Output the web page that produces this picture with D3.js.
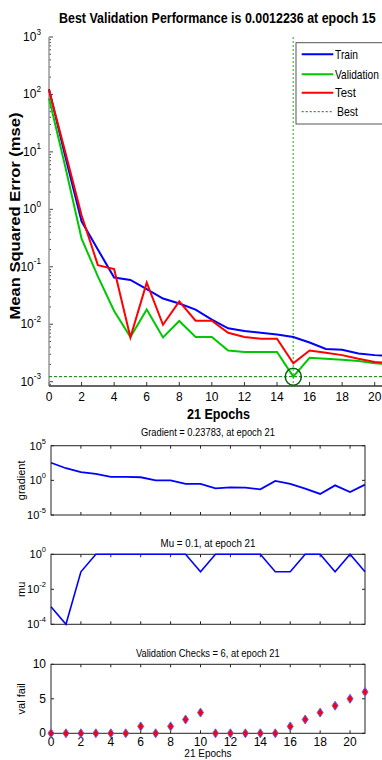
<!DOCTYPE html>
<html><head><meta charset="utf-8">
<script src="https://cdn.jsdelivr.net/npm/d3@7"></script>
<style>
html,body{margin:0;padding:0;background:#fff;}
svg{display:block;}
text{font-family:"Liberation Sans Narrow","Liberation Sans",Arial,sans-serif;fill:#000;}
</style></head><body>
<svg id="c" width="382" height="760"></svg>
<script>
// ---------- data ----------
const epochs = [0,1,2,3,4,5,6,7,8,9,10,11,12,13,14,15,16,17,18,19,20,21];
const trainPerf = [123, 8.3, 0.62, 0.2, 0.065, 0.059, 0.041, 0.028, 0.023, 0.018, 0.012, 0.0085, 0.0076, 0.0071, 0.0066, 0.0060, 0.0048, 0.0037, 0.0036, 0.0031, 0.0029, 0.0028];
const valPerf   = [86, 5.5, 0.31, 0.068, 0.017, 0.006, 0.018, 0.0059, 0.0114, 0.006, 0.006, 0.0035, 0.0033, 0.0033, 0.0033, 0.0012236, 0.0026, 0.0025, 0.0024, 0.0023, 0.0021, 0.0020];
const testPerf  = [120, 10, 0.79, 0.107, 0.091, 0.0059, 0.053, 0.0098, 0.025, 0.0115, 0.0115, 0.0071, 0.006, 0.0056, 0.0056, 0.0021, 0.0035, 0.0032, 0.0029, 0.0025, 0.0022, 0.0021];
const bestEpoch = 15;
const bestPerf = 0.0012236;
const gradient = [350, 56, 15, 8.3, 3.1, 3.1, 2.8, 1.0, 1.0, 0.30, 0.30, 0.071, 0.10, 0.089, 0.051, 0.81, 0.30, 0.065, 0.011, 0.19, 0.021, 0.23783];
const mu = [0.001, 0.0001, 0.1, 1, 1, 1, 1, 1, 1, 1, 0.1, 1, 1, 1, 1, 0.1, 0.1, 1, 1, 0.1, 1, 0.1];
const valFail = [0,0,0,0,0,0,1,0,1,2,3,0,0,0,0,0,1,2,3,4,5,6];
const perfTickExps = [3,2,1,0,-1,-2,-3];
const perfXTicks = [0,2,4,6,8,10,12,14,16,18,20];
const gradTickExps = [5,0,-5];
const muTickExps = [0,-2,-4];
const failTicks = [0,5,10];
const legendNames = ["Train","Validation","Test","Best"];

const svg = d3.select("#c");
const BLUE="#0000ff", GREEN="#00c800", RED="#ff0000";

// place a text so its left edge is at x0 and its drawn width is `width` (horizontal squeeze)
function fitText(sel, x0, width, pre){
  sel.attr("x",0).attr("text-anchor","start");
  const w = sel.node().getComputedTextLength();
  sel.attr("transform",`${pre||""} translate(${x0},0) scale(${width/w},1)`);
  return sel;
}

function logLabel(g, x, y, exp, size){
  const t = g.append("text").attr("x",x).attr("y",y).attr("text-anchor","end")
    .attr("font-size",size).attr("dominant-baseline","middle");
  t.append("tspan").text("10");
  t.append("tspan").attr("font-size",size*0.68).attr("dy",-size*0.45).text(exp);
  return t;
}

// ---------- top performance plot ----------
const P = {l:49, r:391, t:37, b:386};
const x = d3.scaleLinear().domain([0,21]).range([P.l,P.r]);
const y = d3.scaleLog().domain([Math.pow(10,-3.075),1000]).range([P.b,P.t]);

fitText(svg.append("text").attr("y",23.5).attr("font-size",15).attr("font-weight","bold")
  .text("Best Validation Performance is 0.0012236 at epoch 15"), 59, 317);

const topG = svg.append("g");
const minor=[];
for(let e=-4;e<3;e++) for(let m=2;m<10;m++){const v=m*Math.pow(10,e); if(v>=y.domain()[0]&&v<=1000) minor.push(v);}
topG.selectAll("line.mi").data(minor).enter().append("line")
  .attr("x1",P.l).attr("x2",P.l+2).attr("y1",d=>y(d)).attr("y2",d=>y(d))
  .attr("stroke","#444").attr("stroke-width",1);
topG.selectAll("line.ma").data(perfTickExps).enter().append("line")
  .attr("x1",P.l).attr("x2",P.l+4).attr("y1",d=>y(Math.pow(10,d))).attr("y2",d=>y(Math.pow(10,d)))
  .attr("stroke","#444");
perfTickExps.forEach(e=>logLabel(topG, 41, y(Math.pow(10,e))+1, e, 12));
topG.selectAll("line.xt").data(perfXTicks).enter().append("line")
  .attr("x1",d=>x(d)).attr("x2",d=>x(d)).attr("y1",P.b).attr("y2",P.b-4).attr("stroke","#333");
topG.selectAll("text.xl").data(perfXTicks).enter().append("text")
  .attr("x",d=>x(d)).attr("y",401).attr("text-anchor","middle").attr("font-size",12).text(d=>d);
topG.append("line").attr("x1",P.l).attr("x2",P.l).attr("y1",P.t).attr("y2",P.b).attr("stroke","#999").attr("stroke-width",1.5);
topG.append("line").attr("x1",P.l).attr("x2",P.r).attr("y1",P.b).attr("y2",P.b).attr("stroke","#333").attr("stroke-width",1.5);

fitText(svg.append("text").attr("y",0).attr("font-size",14).attr("font-weight","bold")
  .attr("font-family","Liberation Sans, Arial, sans-serif").text("Mean Squared Error  (mse)"),
  -103.5, 207, "translate(20,216) rotate(-90)");
fitText(svg.append("text").attr("y",419.5).attr("font-size",14).attr("font-weight","bold").text("21 Epochs"), 187, 63);

topG.append("line").attr("x1",x(bestEpoch)).attr("x2",x(bestEpoch)).attr("y1",P.t).attr("y2",P.b)
  .attr("stroke","#70c070").attr("stroke-width",1.5).attr("stroke-dasharray","2,2");
topG.append("line").attr("x1",P.l).attr("x2",P.r).attr("y1",y(bestPerf)).attr("y2",y(bestPerf))
  .attr("stroke","#007a00").attr("stroke-width",1).attr("stroke-dasharray","3,2");

const line = d3.line().x((d,i)=>x(epochs[i])).y(d=>y(d));
[[trainPerf,BLUE],[valPerf,GREEN],[testPerf,RED]].forEach(([s,c])=>{
  topG.append("path").attr("d",line(s)).attr("fill","none").attr("stroke",c).attr("stroke-width",2);
});
topG.append("ellipse").attr("cx",x(bestEpoch)).attr("cy",y(bestPerf)).attr("rx",8).attr("ry",8.5)
  .attr("fill","none").attr("stroke","#006400").attr("stroke-width",1.5);

const L = svg.append("g");
L.append("rect").attr("x",296).attr("y",42.7).attr("width",100).attr("height",81.3)
  .attr("fill","#fff").attr("stroke","#555").attr("stroke-width",1);
const legY=[54.3,74.3,92.7,111.7];
const legW=[23,44,21,21];
const legX=[335,335,335,337];
const legStyle=[[BLUE,null,2],[GREEN,null,2],[RED,null,2],["#007a00","2,2",1]];
legendNames.forEach((n,i)=>{
  L.append("line").attr("x1",301.7).attr("x2",333.3).attr("y1",legY[i]).attr("y2",legY[i])
    .attr("stroke",legStyle[i][0]).attr("stroke-width",legStyle[i][2]).attr("stroke-dasharray",legStyle[i][1]);
  fitText(L.append("text").attr("y",legY[i]+4.5).attr("font-size",13).text(n), legX[i], legW[i]);
});

// ---------- bottom panels ----------
const B = {l:51, r:365};
const xb = d3.scaleLinear().domain([0,21]).range([B.l,B.r]);
const xbTicks = [2,4,6,8,10,12,14,16,18,20];

function panel(t,b,yScale,yTicks,labelFn,ylabel,title,titleW,titleY){
  const g = svg.append("g");
  fitText(g.append("text").attr("y",titleY).attr("font-size",11).attr("fill","#222").text(title),
    (B.l+B.r)/2 - titleW/2, titleW);
  g.selectAll("line.tx").data(xbTicks).enter().append("line")
    .attr("x1",d=>xb(d)).attr("x2",d=>xb(d)).attr("y1",b).attr("y2",b-3).attr("stroke","#222");
  g.selectAll("line.tx2").data(xbTicks).enter().append("line")
    .attr("x1",d=>xb(d)).attr("x2",d=>xb(d)).attr("y1",t).attr("y2",t+3).attr("stroke","#222");
  g.selectAll("line.ty").data(yTicks).enter().append("line")
    .attr("x1",B.l).attr("x2",B.l+3).attr("y1",d=>yScale(d)).attr("y2",d=>yScale(d)).attr("stroke","#222");
  g.selectAll("line.ty2").data(yTicks).enter().append("line")
    .attr("x1",B.r).attr("x2",B.r-3).attr("y1",d=>yScale(d)).attr("y2",d=>yScale(d)).attr("stroke","#222");
  yTicks.forEach(v=>labelFn(g,v));
  g.append("text").attr("transform",`translate(25,${(t+b)/2}) rotate(-90)`).attr("text-anchor","middle")
    .attr("font-size",11).attr("fill","#222").text(ylabel);
  return g;
}

const yg = d3.scaleLog().domain([1e-5,1e5]).range([515,445.7]);
const gG = panel(445.7,515,yg,gradTickExps.map(e=>Math.pow(10,e)),
  (g,v)=>logLabel(g,46,yg(v)+1,Math.round(Math.log10(v)),11),"gradient","Gradient = 0.23783, at epoch 21",134,435.7);
gG.append("path").attr("d",d3.line().x((d,i)=>xb(epochs[i])).y(d=>yg(d))(gradient))
  .attr("fill","none").attr("stroke",BLUE).attr("stroke-width",1.8);
gG.append("rect").attr("x",B.l).attr("y",445.7).attr("width",B.r-B.l).attr("height",515-445.7)
  .attr("fill","none").attr("stroke","#222");

const ym = d3.scaleLog().domain([1e-4,1]).range([624.3,554.3]);
const gM = panel(554.3,624.3,ym,muTickExps.map(e=>Math.pow(10,e)),
  (g,v)=>logLabel(g,46,ym(v)+1,Math.round(Math.log10(v)),11),"mu","Mu = 0.1, at epoch 21",95,546.7);
gM.append("rect").attr("x",B.l).attr("y",554.3).attr("width",B.r-B.l).attr("height",70)
  .attr("fill","none").attr("stroke","#222");
gM.append("path").attr("d",d3.line().x((d,i)=>xb(epochs[i])).y(d=>ym(d))(mu))
  .attr("fill","none").attr("stroke",BLUE).attr("stroke-width",1.6);

const yf = d3.scaleLinear().domain([0,10]).range([733.3,664.3]);
const gF = panel(664.3,733.3,yf,failTicks,
  (g,v)=>g.append("text").attr("x",46).attr("y",yf(v)+4).attr("text-anchor","end").attr("font-size",12).text(v),
  "val fail","Validation Checks = 6, at epoch 21",144,656.7);
gF.append("rect").attr("x",B.l).attr("y",664.3).attr("width",B.r-B.l).attr("height",69)
  .attr("fill","none").attr("stroke","#222");
gF.selectAll("text.xl").data([0].concat(xbTicks)).enter().append("text")
  .attr("x",d=>xb(d)).attr("y",746).attr("text-anchor","middle").attr("font-size",12).text(d=>d);
gF.selectAll("path.dm").data(valFail).enter().append("path")
  .attr("d","M0,-4.5L3,0L0,4.5L-3,0Z")
  .attr("transform",(d,i)=>`translate(${xb(epochs[i])},${yf(d)})`)
  .attr("fill",RED).attr("stroke","#6060ff").attr("stroke-width",1);
svg.append("text").attr("x",(B.l+B.r)/2).attr("y",757).attr("text-anchor","middle").attr("font-size",10)
  .text("21 Epochs");
</script></body></html>
